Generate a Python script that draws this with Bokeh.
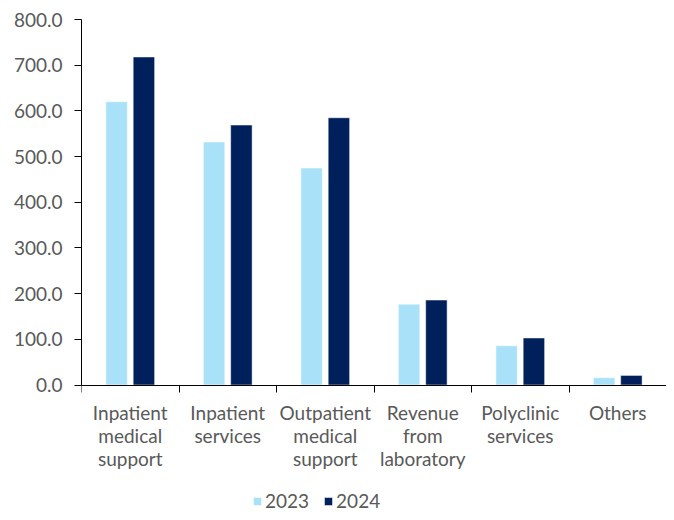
from bokeh.plotting import figure
from bokeh.models import (ColumnDataSource, Range1d, FixedTicker, NumeralTickFormatter,
                          Legend, LegendItem)
from bokeh.transform import dodge
from bokeh.embed import file_html
from bokeh.resources import INLINE

categories = ["Inpatient\nmedical\nsupport", "Inpatient\nservices", "Outpatient\nmedical\nsupport",
              "Revenue\nfrom\nlaboratory", "Polyclinic\nservices", "Others"]
values_2023 = [620, 532, 475, 177, 86, 16]
values_2024 = [718, 569, 585, 186, 103, 21]
y_ticks = [0, 100, 200, 300, 400, 500, 600, 700, 800]

FONT = "Lato"
GREY = "#595959"
C23 = "#A9E2F8"
C24 = "#00205B"
FS = "19px"

pos = list(range(1, len(categories) + 1))
src = ColumnDataSource(dict(x=pos, y23=values_2023, y24=values_2024))

# frame spans the whole lower part so the legend can sit under the category labels
p = figure(width=666, height=512, output_backend="svg", toolbar_location=None,
           x_range=Range1d(0.5, len(categories) + 0.5), y_range=Range1d(-279, 800),
           min_border_left=81, min_border_right=0, min_border_top=19, min_border_bottom=0)
p.outline_line_color = None
p.xgrid.grid_line_color = None
p.ygrid.grid_line_color = None

r23 = p.vbar(x=dodge("x", -0.14), top="y23", bottom=0, width=0.22, source=src,
             fill_color=C23, line_color="white", line_width=0.5)
r24 = p.vbar(x=dodge("x", 0.14), top="y24", bottom=0, width=0.22, source=src,
             fill_color=C24, line_color="white", line_width=0.5)

# y axis
ya = p.yaxis[0]
ya.ticker = FixedTicker(ticks=y_ticks)
ya.bounds = (0, 800)
ya.formatter = NumeralTickFormatter(format="0.0")
ya.axis_line_color = "black"
ya.major_tick_line_color = "black"
ya.major_tick_out = 7
ya.major_tick_in = 0
ya.minor_tick_line_color = None
ya.major_label_text_font = FONT
ya.major_label_text_font_size = FS
ya.major_label_text_color = GREY
ya.major_label_standoff = 12

# x axis at y = 0
xa = p.xaxis[0]
xa.fixed_location = 0
xa.ticker = FixedTicker(ticks=pos, minor_ticks=[i + 0.5 for i in range(len(categories) + 1)])
xa.major_label_overrides = {i + 1: c for i, c in enumerate(categories)}
xa.axis_line_color = "black"
xa.major_tick_line_color = None
xa.minor_tick_line_color = "black"
xa.minor_tick_out = 7
xa.minor_tick_in = 0
xa.major_label_text_font = FONT
xa.major_label_text_font_size = FS
xa.major_label_text_color = GREY
xa.major_label_standoff = 9
xa.major_label_text_line_height = 1.0

legend = Legend(items=[LegendItem(label="2023", renderers=[r23]),
                       LegendItem(label="2024", renderers=[r24])],
                orientation="horizontal", location=(171, 0),
                label_text_font=FONT, label_text_font_size=FS, label_text_color=GREY,
                glyph_width=10, glyph_height=10, label_standoff=3, spacing=14,
                border_line_color=None, background_fill_alpha=0, margin=0, padding=0)
p.add_layout(legend)

open("out.html", "w").write(file_html(p, INLINE))
